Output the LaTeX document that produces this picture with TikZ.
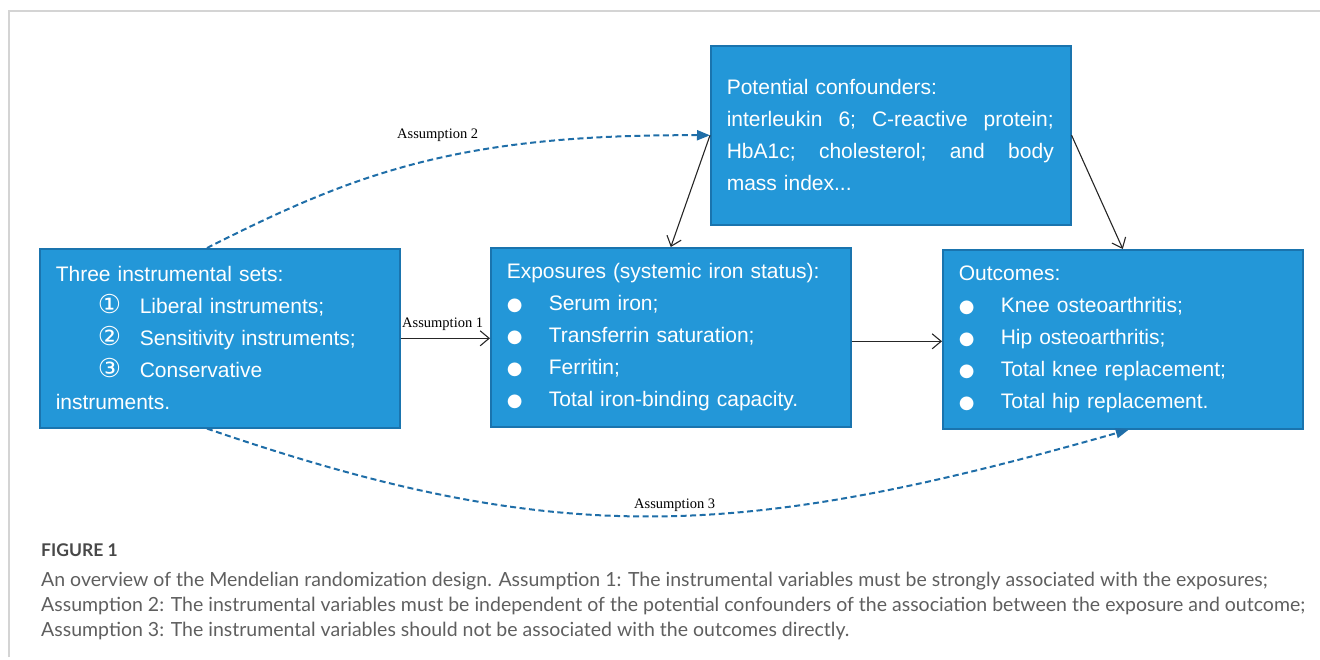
\documentclass[tikz,border=0pt]{standalone}
\usepackage{fontspec}
\setmainfont{Liberation Sans}
\newfontfamily\symfont{DejaVu Sans}
\newfontfamily\labelfont{Liberation Serif}
\newfontfamily\capfont{Lato}
\usetikzlibrary{arrows.meta}
\definecolor{boxfill}{RGB}{35,151,216}
\definecolor{boxline}{RGB}{26,116,174}
\definecolor{dashblue}{RGB}{31,110,168}
\definecolor{framegray}{RGB}{212,212,212}
\definecolor{capgray}{RGB}{95,95,95}
\definecolor{headgray}{RGB}{72,72,72}
\newcommand{\bul}{\makebox[42pt][l]{\symfont\fontsize{18}{32}\selectfont ●}}
\newcommand{\circnum}[1]{\hspace*{42pt}\makebox[42pt][l]{\symfont\fontsize{26}{32}\selectfont #1}}
\newcommand{\spreadline}[1]{\leavevmode\hbox to 327pt{#1}}
\tikzset{
  infobox/.style={draw=boxline, line width=1.6pt, fill=boxfill, text=white,
    minimum width=360pt, minimum height=179pt, inner xsep=16pt,
    text width=328pt, align=left, anchor=north west,
    font=\fontsize{21}{32}\selectfont},
  solidarrow/.style={draw=black!85, line width=1.1pt,
    -{Straight Barb[length=9pt,width=15pt]}},
  dasharrow/.style={draw=dashblue, line width=2pt, dash pattern=on 6pt off 3.5pt,
    -{Triangle[length=13pt,width=10pt]}},
  asslabel/.style={font=\labelfont\fontsize{14.5}{16}\selectfont, anchor=base west, inner sep=0pt},
  captext/.style={font=\capfont\fontsize{19.5}{24}\selectfont, text=capgray, anchor=base west, inner sep=0pt}
}
\begin{document}
\begin{tikzpicture}[x=1pt,y=-1pt]
\useasboundingbox (0,0) rectangle (1320,659);
% outer frame (top and left rules)
\draw[framegray, line width=1.5pt] (9,657) -- (9,11) -- (1320,11);

% boxes
\node[infobox] (conf) at (710,45) {Potential confounders:\\
\spreadline{interleukin\hfill 6;\hfill C-reactive\hfill protein;}\\
\spreadline{HbA1c;\hfill cholesterol;\hfill and\hfill body}\\
mass index...};

\node[infobox] (inst) at (39,248) {Three instrumental sets:\\
\circnum{①}Liberal instruments;\\
\circnum{②}Sensitivity instruments;\\
\circnum{③}Conservative\\
instruments.};

\node[infobox] (expo) at (490,247) {Exposures (systemic iron status):\\
\bul Serum iron;\\
\bul Transferrin saturation;\\
\bul Ferritin;\\
\bul Total iron-binding capacity.};

\node[infobox] (outc) at (942,249) {Outcomes:\\
\bul Knee osteoarthritis;\\
\bul Hip osteoarthritis;\\
\bul Total knee replacement;\\
\bul Total hip replacement.};

% solid connectors
\draw[solidarrow] (inst.east) -- (inst.east -| expo.west);
\draw[solidarrow] ([yshift=-4pt]expo.east) -- ([yshift=-4pt]expo.east -| outc.west);
\draw[solidarrow] (conf.west) -- (expo.north);
\draw[solidarrow] (conf.east) -- (outc.north);

% dashed assumption connectors
\draw[dasharrow] ([xshift=168pt]inst.north west) .. controls (357,172) and (460,134) .. (conf.west);
\draw[dasharrow] ([xshift=168pt]inst.south west) .. controls (560,550) and (740,540) .. ([xshift=6pt]outc.south);

% assumption labels
\node[asslabel] (a1) at (402,327) {Assumption 1};
\node[asslabel] (a2) at (397,138) {Assumption 2};
\node[asslabel] (a3) at (634,508) {Assumption 3};

% caption
\node[anchor=base west, inner sep=0pt, text=headgray, font=\capfont\bfseries\fontsize{17.5}{20}\selectfont] (fig) at (41,556) {FIGURE 1};
\node[captext] (c1) at (41,586) {An overview of the Mendelian randomization design. Assumption 1: The instrumental variables must be strongly associated with the exposures;};
\node[captext] (c2) at (41,611) {Assumption 2: The instrumental variables must be independent of the potential confounders of the association between the exposure and outcome;};
\node[captext] (c3) at (41,636) {Assumption 3: The instrumental variables should not be associated with the outcomes directly.};
\end{tikzpicture}
\end{document}
